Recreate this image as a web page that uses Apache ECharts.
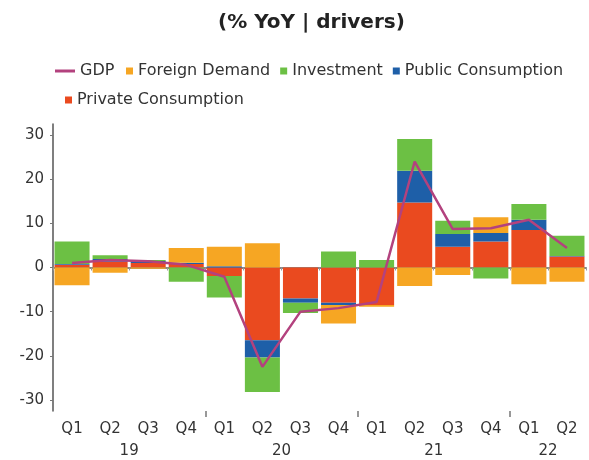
<!DOCTYPE html>
<html>
<head>
<meta charset="utf-8">
<script src="https://cdn.jsdelivr.net/npm/echarts@6/dist/echarts.min.js"></script>
<style>
    html, body { margin: 0; padding: 0; background: #fff; }
    #graph { width: 589px; height: 460px; }
</style>
</head>
<body>
<div id="graph"></div>
<script>
// data
var quarters = ['Q1', 'Q2', 'Q3', 'Q4', 'Q1', 'Q2', 'Q3', 'Q4', 'Q1', 'Q2', 'Q3', 'Q4', 'Q1', 'Q2'];
var years = ['19', '20', '21', '22'];
var yearMid = [2, 6, 10, 13];      // label spot on the 0..14 quarter scale
var yearEdge = [4, 8, 12];         // year boundaries
var yTicks = [-30, -20, -10, 0, 10, 20, 30];

var gdp = [1.0, 1.7, 1.4, 0.6, -2.1, -22.5, -10.0, -9.2, -7.8, 24.0, 8.7, 8.9, 10.8, 4.4];
var privateCons = [0.6, 1.3, 1.0, 0.8, -1.9, -16.5, -7.0, -8.0, -8.5, 14.7, 4.7, 5.9, 8.5, 2.5];
var publicCons = [0.2, 0.6, 0.5, 0.3, 0.3, -3.9, -1.0, -0.5, 0, 7.2, 2.9, 1.9, 2.3, 0.1];
var investment = [5.1, 0.9, 0.2, -3.2, -4.9, -7.8, -2.3, 3.6, 1.7, 7.2, 3.0, -2.5, 3.6, 4.6];
var foreignDemand = [-4.0, -1.2, -0.3, 3.3, 4.4, 5.5, 0, -4.2, -0.4, -4.2, -1.7, 3.6, -3.8, -3.2];

var font = 'DejaVu Sans';
var txt = '#333';

var myChart = echarts.init(document.getElementById('graph'));

var legendText = { fontFamily: font, fontSize: 16, color: txt };

var option = {
    backgroundColor: '#fff',
    animation: false,
    title: {
        text: '(% YoY | drivers)',
        left: 218,
        top: 13,
        padding: 0,
        textStyle: { fontFamily: font, fontSize: 20, fontWeight: 'bold', color: '#222' }
    },
    legend: [
        {
            left: 55, top: 63, padding: 0,
            itemWidth: 20, itemHeight: 3,
            icon: 'rect',
            textStyle: legendText,
            data: ['GDP']
        },
        {
            left: 126, top: 63, padding: 0,
            itemWidth: 7, itemHeight: 7, itemGap: 10,
            icon: 'rect',
            textStyle: legendText,
            data: ['Foreign Demand', 'Investment', 'Public Consumption']
        },
        {
            left: 65, top: 92, padding: 0,
            itemWidth: 7, itemHeight: 7,
            icon: 'rect',
            textStyle: legendText,
            data: ['Private Consumption']
        }
    ],
    grid: {
        left: 53,
        right: 3,
        top: 124,
        bottom: 49
    },
    xAxis: [
        {
            type: 'category',
            data: quarters,
            axisLine: { lineStyle: { color: '#888', width: 2 } },
            axisTick: { show: true, interval: 0, length: 3, lineStyle: { color: '#999' } },
            axisLabel: { interval: 0, margin: 11, fontFamily: font, fontSize: 15, color: txt }
        },
        {
            // year row + year boundary ticks
            type: 'value',
            min: 0,
            max: 14,
            position: 'bottom',
            axisLine: { show: false },
            splitLine: { show: false },
            axisTick: { show: true, customValues: yearEdge, length: 6, lineStyle: { color: '#777', width: 1.5 } },
            axisLabel: {
                customValues: yearMid,
                margin: 33,
                fontFamily: font, fontSize: 15, color: txt,
                formatter: function (v) {
                    return years[yearMid.indexOf(v)];
                }
            }
        }
    ],
    yAxis: {
        type: 'value',
        min: -32.5,
        max: 32.5,
        axisLine: { show: true, lineStyle: { color: '#555', width: 1.5 } },
        axisTick: { show: true, customValues: yTicks, length: 3, lineStyle: { color: '#777' } },
        splitLine: { show: false },
        axisLabel: { customValues: yTicks, margin: 9, fontFamily: font, fontSize: 15, color: txt }
    },
    series: [
        {
            name: 'Private Consumption',
            type: 'bar',
            stack: 'drv',
            barCategoryGap: '8%',
            itemStyle: { color: '#EA4A1F' },
            data: privateCons
        },
        {
            name: 'Public Consumption',
            type: 'bar',
            stack: 'drv',
            itemStyle: { color: '#1E5FA8' },
            data: publicCons
        },
        {
            name: 'Investment',
            type: 'bar',
            stack: 'drv',
            itemStyle: { color: '#6CC044' },
            data: investment
        },
        {
            name: 'Foreign Demand',
            type: 'bar',
            stack: 'drv',
            itemStyle: { color: '#F6A623' },
            data: foreignDemand
        },
        {
            name: 'GDP',
            type: 'line',
            z: 5,
            symbol: 'none',
            itemStyle: { color: '#B3427E' },
            lineStyle: { color: '#B3427E', width: 2.5 },
            data: gdp
        }
    ]
};

myChart.setOption(option);
</script>
</body>
</html>
